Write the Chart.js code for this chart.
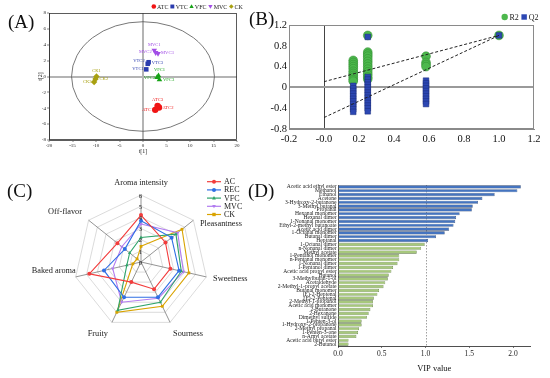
<!DOCTYPE html>
<html><head><meta charset="utf-8">
<script src="https://cdn.jsdelivr.net/npm/chart.js@4.4.0/dist/chart.umd.min.js"></script>
<style>
html,body{margin:0;padding:0;background:#fff;}
body{width:550px;height:378px;position:relative;overflow:hidden;font-family:'Liberation Serif',serif;}
canvas{position:absolute;}
.pl{position:absolute;font-size:19px;color:#111;line-height:1;font-family:'Liberation Serif',serif;}
</style></head><body>
<canvas id="cA" width="275" height="190" style="left:0;top:0"></canvas>
<canvas id="cB" width="300" height="190" style="left:250px;top:0"></canvas>
<canvas id="cC" width="275" height="203" style="left:0;top:175px"></canvas>
<canvas id="cD" width="275" height="203" style="left:275px;top:175px"></canvas>
<div class="pl" style="left:8px;top:12px">(A)</div>
<div class="pl" style="left:249px;top:9px">(B)</div>
<div class="pl" style="left:7px;top:181px">(C)</div>
<div class="pl" style="left:248px;top:181px">(D)</div>
<script>
// ---------- Panel A: PCA scores ----------
const pcaGroups = ['ATC','VTC','VFC','MVC','CK'];
const pcaATC = [[2.6,-4.2],[3.4,-3.9],[3.1,-3.7]];
const pcaVTC = [[0.7,0.9],[1.0,1.6],[1.2,1.8]];
const pcaVFC = [[3.3,0.1],[3.0,-0.1],[3.5,-0.4]];
const pcaMVC = [[2.4,3.3],[2.7,3.0],[3.2,2.9]];
const pcaCK  = [[-9.9,0.0],[-10.1,-0.3],[-10.4,-0.7]];
const pcaXTicks = [-20,-15,-10,-5,0,5,10,15,20];
const pcaYTicks = [-8,-6,-4,-2,0,2,4,6,8];
const ellipseRadii = [15.2, 6.9];

// ---------- Panel B: permutation test ----------
const permX = [0.167, 0.25, 0.583, 1.0];
const r2At0167 = [0.52,0.48,0.44,0.40,0.36,0.31,0.27,0.23,0.19,0.15,0.12];
const r2At025  = [1.0,0.68,0.64,0.60,0.55,0.50,0.45,0.40,0.35,0.30,0.25,0.20,0.16];
const r2At0583 = [0.60,0.48,0.44,0.40];
const r2At1    = [1.0];
const q2At0167 = [0.03,-0.02,-0.07,-0.12,-0.17,-0.22,-0.27,-0.32,-0.37,-0.42,-0.47];
const q2At025  = [0.97,0.20,0.15,0.10,0.05,0.0,-0.05,-0.10,-0.15,-0.20,-0.25,-0.30,-0.35,-0.40,-0.46];
const q2At0583 = [0.13,0.08,0.03,-0.02,-0.07,-0.12,-0.17,-0.22,-0.27,-0.32];
const q2At1    = [1.0];
const r2Intercept = [0.11, 1.0];   // y at x=0 and x=1
const q2Intercept = [-0.58, 1.0];

// ---------- Panel C: sensory radar ----------
const sensoryAttrs = ['Aroma intensity','Pleasantness','Sweetness','Sourness','Fruity','Baked aroma','Off-flavor'];
const sensoryAC  = [4.2, 2.8, 2.7, 2.7, 2.0, 4.75, 2.7];
const sensoryREC = [3.7, 3.5, 3.5, 3.5, 3.5, 3.4, 1.85];
const sensoryVFC = [2.2, 4.0, 3.7, 4.0, 4.8, 1.3, 1.3];
const sensoryMVC = [3.4, 4.2, 3.9, 3.6, 4.0, 2.6, 2.2];
const sensoryCK  = [1.4, 4.7, 4.4, 4.4, 5.0, 0.75, 0.45];
const sensoryTicks = [0,1,2,3,4,5,6];

// ---------- Panel D: VIP ----------
const vipCompounds = ['Acetic acid ethyl ester','Methanol','Ethanol','Acetone','3-Hydroxy-2-butanone','3-Methyl butanal','Propanal','Hexanal monomer','Hexanal dimer','1-Nonanal monomer','Ethyl-2-methyl butanoate','Acetic acid dimer','1-Octanal monomer','Butanal dimer','Heptanal','1-Octanal dimer','n-Nonanal dimer','Methyl acetate','1-Pentanol monomer','n-Pentanal monomer','1-Nonanal dimer','1-Pentanol dimer','Acetic acid propyl ester','Butanol','3-Methylbutan-1-ol','Acetaldehyde','2-Methyl-1-propyl acetate','Butanal monomer','(E)-2-Heptenal','(E)-2-Pentenal','2-Methyl-1-propanol','Acetic acid monomer','2-Butanone','2-Hexanone','Dimethyl sulfide','1-Penten-3-ol','1-Hydroxy-2-propanone','2-Methyl propanal','1-Penten-3-one','n-Amyl acetate','Acetic acid butyl ester','2-Butanol'];
const vipValues = [2.09,2.05,1.79,1.65,1.60,1.54,1.53,1.39,1.35,1.34,1.32,1.27,1.22,1.12,1.03,0.99,0.95,0.90,0.70,0.70,0.68,0.63,0.61,0.58,0.57,0.54,0.52,0.47,0.45,0.41,0.40,0.40,0.37,0.35,0.33,0.27,0.27,0.24,0.23,0.21,0.12,0.12];
const vipTicks = [0,0.5,1.0,1.5,2.0];
const vipThreshold = 1.0;

// ================= helpers =================
const SERIF = "'Liberation Serif', serif";
Chart.defaults.font.family = SERIF;
Chart.defaults.color = '#222';

function drawMarker(ctx, style, x, y, r, fill, stroke, rot) {
  ctx.save(); ctx.translate(x, y); ctx.rotate((rot||0)*Math.PI/180);
  ctx.beginPath();
  if (style === 'circle') ctx.arc(0,0,r,0,Math.PI*2);
  else if (style === 'rect') ctx.rect(-r*0.85,-r*0.85,r*1.7,r*1.7);
  else if (style === 'rectRot') { ctx.moveTo(0,-r); ctx.lineTo(r,0); ctx.lineTo(0,r); ctx.lineTo(-r,0); ctx.closePath(); }
  else if (style === 'triangle') { ctx.moveTo(0,-r); ctx.lineTo(r*0.95,r*0.7); ctx.lineTo(-r*0.95,r*0.7); ctx.closePath(); }
  ctx.fillStyle = fill; ctx.fill();
  if (stroke) { ctx.strokeStyle = stroke; ctx.lineWidth = 0.6; ctx.stroke(); }
  ctx.restore();
}

// inline legend drawn in a row
function rowLegend(id, items, x0, y0, r, fontPx, gap, mgap) {
  return { id, afterDraw(chart) {
    const ctx = chart.ctx; ctx.save();
    ctx.font = fontPx + 'px ' + SERIF; ctx.textBaseline = 'middle'; ctx.textAlign = 'left';
    let x = x0;
    items.forEach(it => {
      drawMarker(ctx, it.style, x + r, y0, r, it.color, null, it.rot);
      x += 2*r + mgap;
      ctx.fillStyle = '#222'; ctx.fillText(it.text, x, y0 + 0.5);
      x += ctx.measureText(it.text).width + gap;
    });
    ctx.restore();
  }};
}

const frameA = { id:'frameA', afterDraw(chart){ const a=chart.chartArea, ctx=chart.ctx; ctx.save(); ctx.strokeStyle='#333'; ctx.lineWidth=0.8; ctx.strokeRect(a.left+0.5,a.top+0.5,a.right-a.left-1,a.bottom-a.top-1); ctx.restore(); } };

// ================= Panel A =================
const colA = {ATC:'#f01414', VTC:'#2b3cae', VFC:'#17a317', MVC:'#a24ee6', CK:'#a8a010'};
const styleA = {ATC:['circle',0], VTC:['rect',0], VFC:['triangle',0], MVC:['triangle',180], CK:['rectRot',0]};
const labelPosA = {
  ATC:[[-2,0,'right'],[3.5,0,'left'],[0,-6.5,'center']],
  VTC:[[-2.5,-1,'right'],[-3,-3.5,'right'],[3,1,'left']],
  VFC:[[1,-5.5,'center'],[-2,0,'right'],[3.5,0,'left']],
  MVC:[[0,-6,'center'],[-4,-1,'right'],[3,-0.5,'left']],
  CK:[[0,-6,'center'],[4,0,'left'],[-2.5,-0.7,'right']]
};
const pcaSeries = {ATC:pcaATC, VTC:pcaVTC, VFC:pcaVFC, MVC:pcaMVC, CK:pcaCK};
const dsA = pcaGroups.map(g => ({
  label: g,
  data: pcaSeries[g].map(p => ({x:p[0], y:p[1]})),
  pointNames: pcaSeries[g].map((p,i) => g + (i+1)),
  labelPos: labelPosA[g],
  backgroundColor: colA[g], borderColor: colA[g], borderWidth: 0,
  pointStyle: styleA[g][0], rotation: styleA[g][1], pointRadius: 3.2
}));
const ellipsePlugin = { id:'ellipse', beforeDatasetsDraw(chart){
  const s=chart.scales, ctx=chart.ctx;
  const x0=s.x.getPixelForValue(0), y0=s.y.getPixelForValue(0);
  const rx=s.x.getPixelForValue(ellipseRadii[0])-x0, ry=y0-s.y.getPixelForValue(ellipseRadii[1]);
  ctx.save(); ctx.beginPath(); ctx.ellipse(x0,y0,rx,ry,0,0,Math.PI*2); ctx.strokeStyle='#555'; ctx.lineWidth=0.8; ctx.stroke(); ctx.restore();
}};
const pcaLabelPlugin = { id:'pcaLabels', afterDatasetsDraw(chart){
  const ctx=chart.ctx; ctx.save(); ctx.font='4.6px '+SERIF; ctx.textBaseline='middle';
  chart.data.datasets.forEach((ds,di)=>{
    chart.getDatasetMeta(di).data.forEach((el,i)=>{
      const o=ds.labelPos[i]; ctx.fillStyle=ds.borderColor; ctx.textAlign=o[2];
      ctx.fillText(ds.pointNames[i], el.x+o[0], el.y+o[1]);
    });
  });
  ctx.restore();
}};
const zeroGrid = (c) => (c.tick && c.tick.value === 0) ? '#b4b4b4' : 'rgba(0,0,0,0)';
new Chart(document.getElementById('cA'), {
  type:'scatter',
  data:{datasets: dsA},
  options:{
    responsive:false, animation:false, events:[],
    layout:{padding:{left:0,top:13,right:38,bottom:0}},
    plugins:{legend:{display:false}, tooltip:{enabled:false}},
    scales:{
      x:{min:-20,max:20, afterBuildTicks:s=>{s.ticks=pcaXTicks.map(v=>({value:v}));},
         afterFit:s=>{s.height=50;},
         ticks:{font:{size:5},color:'#222',padding:1,maxRotation:0},
         grid:{color:zeroGrid, lineWidth:c=>(c.tick&&c.tick.value===0)?2:0, tickColor:'#333', tickLength:2, tickWidth:0.6},
         border:{color:'#333',width:0.8},
         title:{display:true,text:'t[1]',font:{size:6},color:'#222',padding:{top:0,bottom:35.4}}},
      y:{min:-8,max:8, afterBuildTicks:s=>{s.ticks=pcaYTicks.map(v=>({value:v}));},
         afterFit:s=>{s.width=49;},
         ticks:{font:{size:5},color:'#222',padding:1},
         grid:{color:zeroGrid, lineWidth:c=>(c.tick&&c.tick.value===0)?2:0, tickColor:'#333', tickLength:2, tickWidth:0.6},
         border:{color:'#333',width:0.8},
         title:{display:true,text:'t[2]',font:{size:6},color:'#222',padding:{top:36.4,bottom:0}}}
    }
  },
  plugins:[ellipsePlugin, pcaLabelPlugin, frameA,
    rowLegend('legA', pcaGroups.map(g=>({text:g,style:styleA[g][0],rot:styleA[g][1],color:colA[g]})), 151.5, 6.5, 2.3, 6, 1.6, 1)]
});

// ================= Panel B =================
const colR2 = '#4db84d', colQ2 = '#2c47b3';
const col = (xs, ys) => ys.map(v => ({x:xs, y:v}));
const r2Points = [].concat(col(permX[0],r2At0167), col(permX[1],r2At025), col(permX[2],r2At0583), col(permX[3],r2At1));
const q2Points = [].concat(col(permX[0],q2At0167), col(permX[1],q2At025), col(permX[2],q2At0583), col(permX[3],q2At1));
const frameB = { id:'frameB', afterDraw(chart){ const a=chart.chartArea, ctx=chart.ctx; ctx.save(); ctx.strokeStyle='#8a8a8a'; ctx.lineWidth=1; ctx.strokeRect(a.left+0.5,a.top+0.5,a.right-a.left-1,a.bottom-a.top-1); ctx.restore(); } };
new Chart(document.getElementById('cB'), {
  type:'scatter',
  data:{datasets:[
    {label:'R2 line', data:[{x:0,y:r2Intercept[0]},{x:1,y:r2Intercept[1]}], showLine:true, pointRadius:0, borderColor:'#222', borderWidth:1, borderDash:[3,2], order:0},
    {label:'Q2 line', data:[{x:0,y:q2Intercept[0]},{x:1,y:q2Intercept[1]}], showLine:true, pointRadius:0, borderColor:'#222', borderWidth:1, borderDash:[3,2], order:0},
    {label:'Q2', data:q2Points, pointStyle:'rect', pointRadius:4, backgroundColor:colQ2, borderColor:'#1b2c7a', borderWidth:0.5, order:1},
    {label:'R2', data:r2Points, pointStyle:'circle', pointRadius:4.4, backgroundColor:colR2, borderColor:'#2f8a2f', borderWidth:0.5, order:2}
  ]},
  options:{
    responsive:false, animation:false, events:[],
    layout:{padding:{left:0,top:25,right:16,bottom:0}},
    plugins:{legend:{display:false}, tooltip:{enabled:false}},
    scales:{
      x:{min:-0.2,max:1.2, ticks:{stepSize:0.2,font:{size:10.5},color:'#111',padding:4,maxRotation:0},
         afterFit:s=>{s.height=61;},
         grid:{color:c=>(c.tick&&Math.abs(c.tick.value)<1e-9)?'#444':'rgba(0,0,0,0)', lineWidth:1, drawTicks:false},
         border:{color:'#8a8a8a',width:1}},
      y:{min:-0.8,max:1.2, ticks:{stepSize:0.4,font:{size:10.5},color:'#111',padding:2},
         afterFit:s=>{s.width=39;},
         grid:{color:c=>(c.tick&&Math.abs(c.tick.value)<1e-9)?'#9a9a9a':'rgba(0,0,0,0)', lineWidth:2, drawTicks:false},
         border:{color:'#8a8a8a',width:1}}
    }
  },
  plugins:[frameB, rowLegend('legB', [{text:'R2',style:'circle',color:colR2},{text:'Q2',style:'rect',color:colQ2}], 251.5, 17, 3.2, 8, 2.2, 1.5)]
});

// ================= Panel C =================
const colC = {AC:'#f23c3c', REC:'#2f6fe4', VFC:'#2fa46a', MVC:'#b27cf0', CK:'#d9a300'};
const radarSeries = [
  ['AC', sensoryAC, 'circle', 0], ['REC', sensoryREC, 'circle', 0], ['VFC', sensoryVFC, 'triangle', 0],
  ['MVC', sensoryMVC, 'triangle', 180], ['CK', sensoryCK, 'rect', 0]
];
const radarLabelOffsets = [[0,-12,'center'],[6.6,3.7,'left'],[6.7,2,'left'],[3,11.6,'left'],[-4,11.6,'right'],[0,-6,'right'],[-6.6,-8.3,'right']];
const radarText = { id:'radarText', afterDraw(chart){
  const r=chart.scales.r, ctx=chart.ctx; ctx.save();
  ctx.textBaseline='middle'; ctx.fillStyle='#222';
  ctx.font='8.3px '+SERIF;
  sensoryAttrs.forEach((t,i)=>{
    const p=r.getPointPosition(i, r.getDistanceFromCenterForValue(6));
    const o=radarLabelOffsets[i]; ctx.textAlign=o[2]; ctx.fillText(t, p.x+o[0], p.y+o[1]);
  });
  ctx.font='6.5px '+SERIF; ctx.textAlign='right';
  sensoryTicks.forEach(v=>{
    const p=r.getPointPosition(0, r.getDistanceFromCenterForValue(v));
    ctx.fillText(String(v), p.x+1, p.y+1);
  });
  // legend
  ctx.font='8px '+SERIF; ctx.textAlign='left';
  chart.data.datasets.forEach((ds,i)=>{
    const y=6.7+i*8.2;
    ctx.strokeStyle=ds.borderColor; ctx.lineWidth=1.2; ctx.beginPath(); ctx.moveTo(207,y); ctx.lineTo(221,y); ctx.stroke();
    drawMarker(ctx, ds.pointStyle, 214, y, 2, ds.borderColor, null, ds.rotation);
    ctx.fillStyle='#222'; ctx.fillText(ds.label, 224, y+0.5);
  });
  ctx.restore();
}};
new Chart(document.getElementById('cC'), {
  type:'radar',
  data:{labels: sensoryAttrs, datasets: radarSeries.map(s=>({
    label:s[0], data:s[1], borderColor:colC[s[0]], backgroundColor:colC[s[0]], pointBackgroundColor:colC[s[0]],
    pointBorderWidth:0, borderWidth:1.1, fill:false, pointStyle:s[2], rotation:s[3], pointRadius:2
  }))},
  options:{
    responsive:false, animation:false, events:[],
    layout:{padding:{left:74,top:20,right:67,bottom:49}},
    plugins:{legend:{display:false}, tooltip:{enabled:false}},
    scales:{r:{min:0,max:6, ticks:{display:false, stepSize:1},
      pointLabels:{display:false},
      grid:{color:'#d2d2d2', lineWidth:0.8},
      angleLines:{color:'#7a7a7a', lineWidth:0.8}}}
  },
  plugins:[radarText]
});

// ================= Panel D =================
const vipColors = vipValues.map(v => v > vipThreshold ? '#4574c0' : '#a7c87c');
const vipBorders = vipValues.map(v => v > vipThreshold ? '#26406e' : '#4f6d31');
const thresholdLine = { id:'thr', beforeDatasetsDraw(chart){
  const x=chart.scales.x.getPixelForValue(vipThreshold), a=chart.chartArea, ctx=chart.ctx;
  ctx.save(); ctx.strokeStyle='#888'; ctx.lineWidth=0.8; ctx.setLineDash([1.5,1.5]);
  ctx.beginPath(); ctx.moveTo(Math.round(x)+0.5,a.top); ctx.lineTo(Math.round(x)+0.5,a.bottom); ctx.stroke(); ctx.restore();
}};
new Chart(document.getElementById('cD'), {
  type:'bar',
  data:{labels: vipCompounds, datasets:[{label:'VIP', data: vipValues, backgroundColor: vipColors, borderColor: vipBorders, borderWidth:0.6, barPercentage:0.82, categoryPercentage:1}]},
  options:{
    indexAxis:'y', responsive:false, animation:false, events:[],
    layout:{padding:{left:0,top:10,right:19.5,bottom:0}},
    plugins:{legend:{display:false}, tooltip:{enabled:false}},
    scales:{
      x:{min:0,max:2.2, afterBuildTicks:s=>{s.ticks=vipTicks.map(v=>({value:v}));},
         afterFit:s=>{s.height=32;},
         ticks:{font:{size:7.5},color:'#222',padding:1.5,maxRotation:0,callback:v=>Number(v).toFixed(1)},
         grid:{drawOnChartArea:false, tickColor:'#222', tickLength:2, tickWidth:0.6},
         border:{color:'#222',width:0.8},
         title:{display:true,text:'VIP value',font:{size:8.5},color:'#111',padding:{top:0,bottom:4.5}}},
      y:{afterFit:s=>{s.width=63;},
         ticks:{font:{size:5.6},color:'#222',padding:1.5,autoSkip:false},
         grid:{display:false, drawTicks:false},
         border:{color:'#222',width:0.8}}
    }
  },
  plugins:[thresholdLine]
});
</script>
</body></html>
